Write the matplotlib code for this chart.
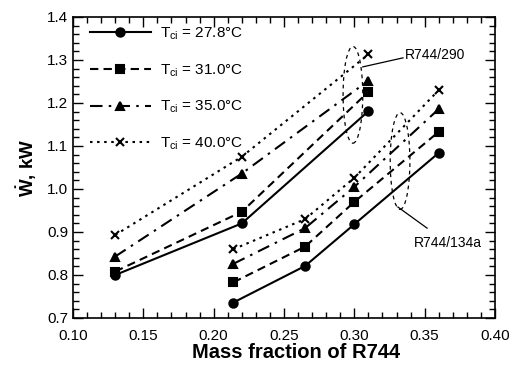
import numpy as np
import matplotlib.pyplot as plt
from matplotlib.patches import Ellipse
from matplotlib.ticker import MultipleLocator

plt.rcParams['font.family'] = ['Liberation Sans', 'DejaVu Sans']
plt.rcParams['mathtext.fontset'] = 'custom'
plt.rcParams['mathtext.rm'] = 'Liberation Sans'
plt.rcParams['mathtext.it'] = 'Liberation Sans:italic'
plt.rcParams['mathtext.bf'] = 'Liberation Sans:bold'

# R744/290 mixture
x_290 = [0.13, 0.22, 0.31]
w_290_278 = [0.800, 0.920, 1.181]
w_290_310 = [0.808, 0.947, 1.226]
w_290_350 = [0.843, 1.036, 1.252]
w_290_400 = [0.893, 1.075, 1.313]

# R744/134a mixture
x_134a = [0.214, 0.265, 0.30, 0.36]
w_134a_278 = [0.736, 0.821, 0.918, 1.084]
w_134a_310 = [0.783, 0.866, 0.970, 1.133]
w_134a_350 = [0.826, 0.909, 1.005, 1.186]
w_134a_400 = [0.860, 0.930, 1.026, 1.230]

labels = [r'$\mathrm{T}_{\mathrm{ci}}$ = 27.8°C', r'$\mathrm{T}_{\mathrm{ci}}$ = 31.0°C',
          r'$\mathrm{T}_{\mathrm{ci}}$ = 35.0°C', r'$\mathrm{T}_{\mathrm{ci}}$ = 40.0°C']
styles = [dict(ls='-', marker='o'),
          dict(ls=(0, (4, 2.5)), marker='s'),
          dict(ls=(0, (6, 3, 1.2, 3)), marker='^'),
          dict(ls=(0, (1.2, 2.2)), marker='x')]

fig = plt.figure(figsize=(5.11, 3.74), dpi=100)
ax = fig.add_axes([73 / 511, 1 - 318 / 374, (495 - 73) / 511, (318 - 17) / 374])

series_290 = [w_290_278, w_290_310, w_290_350, w_290_400]
series_134a = [w_134a_278, w_134a_310, w_134a_350, w_134a_400]
for lab, st, y1, y2 in zip(labels, styles, series_290, series_134a):
    kw = dict(color='black', lw=1.5, ms=6, mew=1.5, **st)
    ax.plot(x_290, y1, label=lab, **kw)
    ax.plot(x_134a, y2, **kw)

# dashed outlines marking each mixture group, with leader lines to their names
for cx, cy in [(0.299, 1.219), (0.3325, 1.065)]:
    ax.add_patch(Ellipse((cx, cy), 0.014, 0.225, fill=False, color='black',
                         lw=0.9, ls=(0, (3, 3))))

ax.plot([0.306, 0.3346], [1.284, 1.305], color='black', lw=0.9)
ax.text(0.336, 1.312, 'R744/290', fontsize=10, va='center', ha='left')
ax.plot([0.331, 0.3517], [0.958, 0.909], color='black', lw=0.9)
ax.text(0.342, 0.874, 'R744/134a', fontsize=10, va='center', ha='left')

ax.set_xlim(0.10, 0.40)
ax.set_ylim(0.7, 1.4)
ax.xaxis.set_major_locator(MultipleLocator(0.05))
ax.xaxis.set_minor_locator(MultipleLocator(0.01))
ax.yaxis.set_major_locator(MultipleLocator(0.1))
ax.yaxis.set_minor_locator(MultipleLocator(0.02))
ax.xaxis.set_major_formatter(plt.FormatStrFormatter('%.2f'))
ax.yaxis.set_major_formatter(plt.FormatStrFormatter('%.1f'))
ax.tick_params(which='both', direction='in', top=True, right=True,
               labelsize=11, width=1)
ax.tick_params(which='major', length=7)
ax.tick_params(which='minor', length=4)
ax.tick_params(axis='x', which='major', pad=8)
for sp in ax.spines.values():
    sp.set_linewidth(1.2)

ax.set_xlabel('Mass fraction of R744', fontsize=14.5, fontweight='bold')
ax.xaxis.set_label_coords(0.528, -0.082, transform=ax.transAxes)
ax.set_ylabel(r'$\mathbf{\dot{W}}$, kW', fontsize=13.5, fontweight='bold', labelpad=6)

ax.legend(loc='upper left', frameon=False, fontsize=11, handlelength=4.0,
          numpoints=1, labelspacing=1.33, bbox_to_anchor=(0.025, 0.992),
          borderaxespad=0, handletextpad=0.6)

fig.savefig('out.png', dpi=100)
